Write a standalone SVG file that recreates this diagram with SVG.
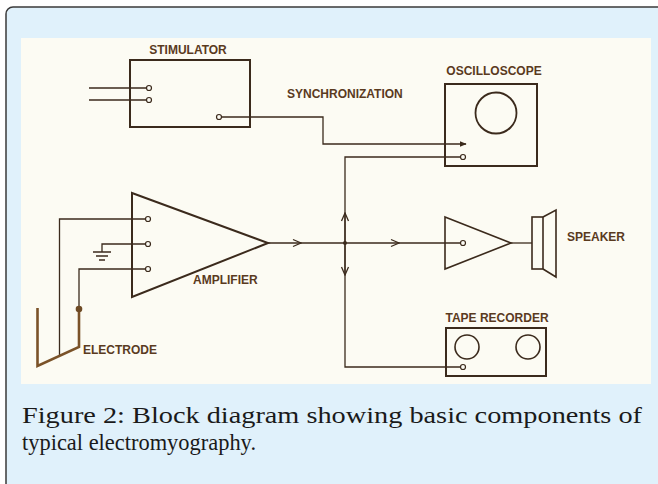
<svg xmlns="http://www.w3.org/2000/svg" width="658" height="484" viewBox="0 0 658 484">
<defs>
<style>
.ln{fill:none;stroke:#3b2a1c;stroke-width:1.3;stroke-linejoin:miter}
.bx{fill:none;stroke:#3b2a1c;stroke-width:2}
.pin{fill:#fcfbf4;stroke:#3b2a1c;stroke-width:1.2}
.lbl{font-family:"Liberation Sans",Arial,sans-serif;font-weight:bold;font-size:12px;fill:#5a3a1e}
.cap{font-family:"Liberation Serif","DejaVu Serif",serif;font-size:24px;fill:#1a1a1a}
.el{fill:none;stroke:#7a5228;stroke-width:2.6;stroke-linejoin:miter}
</style>
<marker id="open" viewBox="0 0 10 10" refX="9" refY="5" markerWidth="10" markerHeight="10" markerUnits="userSpaceOnUse" orient="auto">
<path d="M1,1.5 L9,5 L1,8.5" fill="none" stroke="#3b2a1c" stroke-width="1.3"/>
</marker>
<marker id="fill" viewBox="0 0 10 10" refX="9" refY="5" markerWidth="7" markerHeight="7" markerUnits="userSpaceOnUse" orient="auto">
<path d="M0,1 L10,5 L0,9 Z" fill="#3b2a1c"/>
</marker>
</defs>
<rect x="6" y="7" width="662" height="490" rx="7" fill="#e0f1fb" stroke="#3a3a3a" stroke-width="1.5"/>
<rect x="21" y="38" width="630" height="346" fill="#fcfbf3"/>

<g id="connectors">
<path class="ln" d="M89,88 H146.5 M89,100 H146.5"/>
<path class="ln" d="M221.5,117 H323 V144 H466" marker-end="url(#fill)"/>
<path class="ln" d="M460.5,157 H345 V367 H460.5"/>
<path class="ln" d="M268,243 H301" marker-end="url(#open)"/>
<path class="ln" d="M301,243 H399" marker-end="url(#open)"/>
<path class="ln" d="M399,243 H460.5"/>
<path class="ln" d="M345,243 V213" marker-end="url(#open)"/>
<path class="ln" d="M345,243 V275" marker-end="url(#open)"/>
<circle cx="345" cy="243" r="2" fill="#3b2a1c"/>
<path class="ln" d="M511,243 H532"/>
<path class="ln" d="M145.5,219 H59.5 V356"/>
<path class="ln" d="M145.5,269 H79 V309"/>
<path class="ln" d="M145.5,244 H102 V252 M93,252 H111 M96,256 H108 M99,260 H105"/>
</g>

<g id="stimulator">
<rect class="bx" x="130" y="60" width="120" height="67"/>
<circle class="pin" cx="149" cy="88" r="2.5"/>
<circle class="pin" cx="149" cy="100" r="2.5"/>
<circle class="pin" cx="219" cy="117" r="2.5"/>
<text class="lbl" x="188" y="54" text-anchor="middle">STIMULATOR</text>
</g>
<text class="lbl" x="287" y="98">SYNCHRONIZATION</text>

<g id="oscilloscope">
<rect class="bx" x="445" y="84" width="92" height="82"/>
<circle cx="496" cy="113" r="20.5" fill="none" stroke="#3b2a1c" stroke-width="1.8"/>
<circle class="pin" cx="463" cy="157" r="2.5"/>
<text class="lbl" x="494" y="75" text-anchor="middle">OSCILLOSCOPE</text>
</g>

<g id="amplifier">
<path class="bx" d="M132,193 L268,243 L132,297 Z"/>
<circle class="pin" cx="148" cy="219" r="2.5"/>
<circle class="pin" cx="148" cy="244" r="2.5"/>
<circle class="pin" cx="148" cy="269" r="2.5"/>
<text class="lbl" x="193" y="284">AMPLIFIER</text>
</g>

<g id="electrode">
<path class="el" d="M37.5,308 V366 L79,347 V309"/>
<circle cx="79" cy="309" r="3.3" fill="#6e4a24"/>
<text class="lbl" x="83" y="354">ELECTRODE</text>
</g>

<g id="speaker-amp">
<path class="bx" style="stroke-width:1.6" d="M445,217 L511,243 L445,269 Z"/>
<circle class="pin" cx="463" cy="243" r="2.5"/>
</g>

<g id="speaker">
<rect class="bx" style="stroke-width:1.6" x="532" y="217" width="11" height="52"/>
<path class="bx" style="stroke-width:1.6" d="M543,217 L556,210 V277 L543,269"/>
<text class="lbl" x="567" y="241">SPEAKER</text>
</g>

<g id="tape-recorder">
<rect class="bx" x="446" y="328" width="100" height="48"/>
<circle cx="467" cy="347" r="12" fill="none" stroke="#3b2a1c" stroke-width="1.6"/>
<circle cx="528" cy="347" r="12" fill="none" stroke="#3b2a1c" stroke-width="1.6"/>
<circle class="pin" cx="463" cy="367" r="2.5"/>
<text class="lbl" x="497" y="322" text-anchor="middle">TAPE  RECORDER</text>
</g>

<text class="cap" x="22" y="423" textLength="620" lengthAdjust="spacingAndGlyphs">Figure 2: Block diagram showing basic components of</text>
<text class="cap" x="22" y="450" textLength="234" lengthAdjust="spacingAndGlyphs">typical electromyography.</text>
</svg>
